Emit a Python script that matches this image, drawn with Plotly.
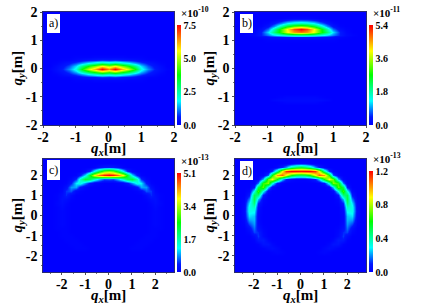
import plotly.graph_objects as go

W, H = 436, 306
FONT = "Liberation Serif"
SCALE = [[0, "#0000ff"], [0.08, "#0018ff"], [0.24, "#00ffff"], [0.5, "#00ff00"], [0.74, "#ffff00"], [1, "#ff0000"]]

# ---- panel a: percent of peak, columns are q_x >= 0, mirrored
a_x = [0, .2, .4, .6, .8, 1.0, 1.2, 1.4, 1.6, 1.8, 2.0, 2.2]
a_y = [-2.2, -.5, -.4, -.3, -.2, -.1, 0, .1, .2, .3, .4, .5, 2.2]
a_rows = [
    [0]*12,
    [0]*12,
    [2, 2, 2, 1, 1, 1, 0, 0, 0, 0, 0, 0],
    [9, 10, 8, 7, 5, 3, 1, 1, 0, 0, 0, 0],
    [31, 36, 30, 25, 18, 12, 7, 4, 1, 0, 0, 0],
    [66, 75, 62, 52, 37, 22, 12, 7, 3, 0, 0, 0],
    [85, 100, 82, 70, 50, 27, 16, 9, 4, 1, 0, 0],
    [66, 75, 62, 52, 37, 22, 12, 7, 3, 0, 0, 0],
    [31, 36, 30, 25, 18, 12, 7, 4, 1, 0, 0, 0],
    [9, 10, 8, 7, 5, 3, 1, 1, 0, 0, 0, 0],
    [2, 2, 2, 1, 1, 1, 0, 0, 0, 0, 0, 0],
    [0]*12,
    [0]*12,
]

# ---- panel b
b_x = [0, .2, .4, .6, .8, 1.0, 1.2, 1.4, 1.6, 1.8, 2.2]
b_y = [-2.2, -1.3, -1.2, -1.1, -1.0, -.9, .9, 1.0, 1.1, 1.2, 1.3, 1.4, 1.5, 1.6, 1.7, 1.8, 1.9, 2.2]
b_rows = [
    [0]*11,
    [0]*11,
    [2, 2, 2, 1, 0, 0, 0, 0, 0, 0, 0],
    [3, 3, 3, 3, 2, 0, 0, 0, 0, 0, 0],
    [2, 2, 2, 1, 0, 0, 0, 0, 0, 0, 0],
    [0]*11,
    [0]*11,
    [1, 1, 1, 1, 1, 1, 0, 0, 0, 0, 0],
    [8, 8, 7, 6, 5, 4, 2, 1, 0, 0, 0],
    [36, 35, 32, 27, 22, 15, 8, 3, 1, 0, 0],
    [88, 84, 72, 55, 38, 22, 8, 2, 0, 0, 0],
    [100, 92, 74, 55, 32, 14, 4, 1, 0, 0, 0],
    [60, 56, 46, 32, 16, 6, 1, 0, 0, 0, 0],
    [30, 28, 23, 15, 7, 2, 0, 0, 0, 0, 0],
    [12, 11, 8, 4, 1, 0, 0, 0, 0, 0, 0],
    [2, 2, 1, 0, 0, 0, 0, 0, 0, 0, 0],
    [0]*11,
    [0]*11,
]

# ---- panels c, d share one grid
cd_x = [0, .2, .4, .6, .8, 1.0, 1.2, 1.4, 1.6, 1.8, 2.0, 2.2, 2.4, 2.6, 2.8]
cd_y = [-2.8, -2.6, -2.4, -2.2, -2.0, -1.8, -1.6, -1.4, -1.2, -1.0, -.8, -.6, -.4, -.2, 0,
        .2, .4, .6, .8, 1.0, 1.2, 1.4, 1.6, 1.8, 2.0, 2.2, 2.4, 2.6, 2.8]
c_rows = [
    [0]*15, [0]*15, [0]*15, [0]*15, [0]*15, [0]*15,
    [0, 0, 0, 0, 0, 1, 1, 1, 0, 0, 0, 0, 0, 0, 0],
    [0, 0, 0, 0, 0, 0, 1, 1, 1, 0, 0, 0, 0, 0, 0],
    [0, 0, 0, 0, 0, 0, 0, 1, 1, 1, 0, 0, 0, 0, 0],
    [0, 0, 0, 0, 0, 0, 0, 0, 1, 1, 1, 0, 0, 0, 0],
    [0, 0, 0, 0, 0, 0, 0, 0, 0, 1, 1, 0, 0, 0, 0],
    [0, 0, 0, 0, 0, 0, 0, 0, 0, 1, 1, 1, 0, 0, 0],
    [0, 0, 0, 0, 0, 0, 0, 0, 0, 1, 2, 1, 0, 0, 0],
    [0, 0, 0, 0, 0, 0, 0, 0, 0, 1, 2, 1, 0, 0, 0],
    [0, 0, 0, 0, 0, 0, 0, 0, 0, 1, 2, 1, 0, 0, 0],
    [0, 0, 0, 0, 0, 0, 0, 0, 0, 1, 2, 1, 0, 0, 0],
    [0, 0, 0, 0, 0, 0, 0, 0, 0, 1, 3, 1, 0, 0, 0],
    [0, 0, 0, 0, 0, 0, 0, 0, 0, 2, 4, 2, 0, 0, 0],
    [0, 0, 0, 0, 0, 0, 0, 0, 1, 4, 5, 1, 0, 0, 0],
    [0, 0, 0, 0, 0, 0, 0, 0, 3, 9, 4, 1, 0, 0, 0],
    [0, 0, 0, 0, 0, 0, 1, 3, 12, 10, 2, 0, 0, 0, 0],
    [0, 0, 0, 0, 0, 2, 6, 18, 17, 5, 1, 0, 0, 0, 0],
    [0, 0, 1, 2, 6, 16, 27, 23, 8, 1, 0, 0, 0, 0, 0],
    [13, 12, 20, 30, 41, 45, 30, 10, 2, 0, 0, 0, 0, 0, 0],
    [100, 97, 88, 72, 48, 22, 7, 1, 0, 0, 0, 0, 0, 0, 0],
    [62, 58, 43, 25, 10, 2, 0, 0, 0, 0, 0, 0, 0, 0, 0],
    [8, 7, 4, 1, 0, 0, 0, 0, 0, 0, 0, 0, 0, 0, 0],
    [0]*15, [0]*15,
]
d_rows = [
    [0]*15, [0]*15, [0]*15, [0]*15, [0]*15,
    [0, 0, 0, 0, 1, 2, 1, 0, 0, 0, 0, 0, 0, 0, 0],
    [0, 0, 0, 0, 0, 2, 4, 3, 1, 0, 0, 0, 0, 0, 0],
    [0, 0, 0, 0, 0, 0, 2, 6, 6, 1, 0, 0, 0, 0, 0],
    [0, 0, 0, 0, 0, 0, 0, 2, 8, 7, 1, 0, 0, 0, 0],
    [0, 0, 0, 0, 0, 0, 0, 0, 3, 10, 4, 0, 0, 0, 0],
    [0, 0, 0, 0, 0, 0, 0, 0, 2, 9, 11, 2, 0, 0, 0],
    [0, 0, 0, 0, 0, 0, 0, 0, 1, 5, 14, 5, 0, 0, 0],
    [0, 0, 0, 0, 0, 0, 0, 0, 0, 3, 17, 11, 1, 0, 0],
    [0, 0, 0, 0, 0, 0, 0, 0, 0, 2, 19, 17, 2, 0, 0],
    [0, 0, 0, 0, 0, 0, 0, 0, 0, 2, 20, 22, 3, 0, 0],
    [0, 0, 0, 0, 0, 0, 0, 0, 0, 3, 25, 26, 4, 0, 0],
    [0, 0, 0, 0, 0, 0, 0, 0, 0, 4, 30, 26, 3, 0, 0],
    [0, 0, 0, 0, 0, 0, 0, 0, 1, 9, 38, 22, 2, 0, 0],
    [0, 0, 0, 0, 0, 0, 0, 0, 2, 19, 43, 15, 1, 0, 0],
    [0, 0, 0, 0, 0, 0, 0, 0, 7, 37, 42, 7, 0, 0, 0],
    [0, 0, 0, 0, 0, 0, 0, 3, 25, 55, 26, 2, 0, 0, 0],
    [0, 0, 0, 0, 0, 0, 3, 21, 58, 42, 7, 0, 0, 0, 0],
    [0, 0, 0, 0, 1, 6, 28, 62, 54, 15, 1, 0, 0, 0, 0],
    [1, 1, 3, 8, 22, 50, 74, 58, 19, 2, 0, 0, 0, 0, 0],
    [42, 44, 52, 72, 90, 84, 50, 13, 2, 0, 0, 0, 0, 0, 0],
    [99, 100, 100, 95, 72, 35, 10, 1, 0, 0, 0, 0, 0, 0, 0],
    [44, 40, 32, 17, 8, 2, 0, 0, 0, 0, 0, 0, 0, 0, 0],
    [3, 3, 1, 0, 0, 0, 0, 0, 0, 0, 0, 0, 0, 0, 0],
    [0]*15,
]

# ---- scales and labels
a_ticks = [0, 2.5, 5.0, 7.5]
b_ticks = [0, 1.8, 3.6, 5.4]
c_ticks = [0, 1.7, 3.4, 5.1]
d_ticks = [0, 0.4, 0.8, 1.2]
exponents = ["-10", "-11", "-13", "-13"]
letters = ["a)", "b)", "c)", "d)"]
q_ticks_small = [-2, -1, 0, 1, 2]

panels = [
    dict(x=a_x, y=a_y, rows=a_rows, ticks=a_ticks, box=(43, 174, 12, 125), bar=(177, 25, 125), rng=2.0, lab=(47, 60, 14, 33)),
    dict(x=b_x, y=b_y, rows=b_rows, ticks=b_ticks, box=(235, 366, 12, 125), bar=(369, 25, 125), rng=2.0, lab=(240, 253, 14, 33)),
    dict(x=cd_x, y=cd_y, rows=c_rows, ticks=c_ticks, box=(43, 174, 159, 272), bar=(177, 173, 272), rng=2.8, lab=(47, 60, 160, 180)),
    dict(x=cd_x, y=cd_y, rows=d_rows, ticks=d_ticks, box=(235, 366, 159, 272), bar=(369, 171, 272), rng=2.8, lab=(240, 253, 161, 180)),
]


def mirror(xs, rows):
    full_x = [-v for v in reversed(xs[1:])] + list(xs)
    full_z = [list(reversed(r[1:])) + list(r) for r in rows]
    return full_x, full_z


fig = go.Figure()
annotations, shapes = [], []
for i, p in enumerate(panels, start=1):
    l, r, t, b = p["box"]
    fx, fz = mirror(p["x"], p["rows"])
    top = p["ticks"][-1]
    z = [[v / 100 * top for v in row] for row in fz]
    bx, bt, bb = p["bar"]
    fig.add_trace(go.Heatmap(
        x=fx, y=p["y"], z=z, zmin=0, zmax=top, colorscale=SCALE, zsmooth="best",
        xaxis=f"x{i}", yaxis=f"y{i}", hoverinfo="skip",
        colorbar=dict(
            x=bx / W, xanchor="left", xpad=0, y=1 - bt / H, yanchor="top", ypad=0,
            len=(bb - bt) / H, lenmode="fraction", thickness=4, outlinewidth=0,
            tickvals=p["ticks"], ticktext=[f"{v:.1f}" for v in p["ticks"]], ticks="",
            tickfont=dict(family=FONT, size=10, color="black", weight=700),
        ),
    ))
    axis = dict(
        range=[-p["rng"], p["rng"]], tickvals=q_ticks_small, ticktext=[str(v) for v in q_ticks_small],
        ticks="outside", ticklen=2, tickwidth=0.6, tickcolor="#555",
        tickfont=dict(family=FONT, size=14, color="black", weight=700),
        showgrid=False, zeroline=False, showline=True, mirror=True, linecolor="#2a2a70", linewidth=0.6,
        minor=dict(dtick=0.5, ticks="outside", ticklen=1.5, tickwidth=0.5, tickcolor="#777", showgrid=False),
        automargin=False,
    )
    suffix = "" if i == 1 else str(i)
    fig.update_layout(**{
        f"xaxis{suffix}": dict(axis, domain=[l / W, r / W], anchor=f"y{i}", ticklabelstandoff=-3),
        f"yaxis{suffix}": dict(axis, domain=[1 - b / H, 1 - t / H], anchor=f"x{i}"),
    })
    # axis titles
    annotations.append(dict(
        x=(l + r) / 2 / W, y=1 - (b + 24) / H, xref="paper", yref="paper", xanchor="center", yanchor="middle",
        text="<b><i>q</i><sub><i>x</i></sub>[m]</b>", showarrow=False, font=dict(family=FONT, size=15, color="black"),
    ))
    annotations.append(dict(
        x=(l - 26) / W, y=1 - (t + b) / 2 / H, xref="paper", yref="paper", xanchor="center", yanchor="middle",
        text="<b><i>q</i><sub><i>y</i></sub>[m]</b>", textangle=-90, showarrow=False,
        font=dict(family=FONT, size=15, color="black"),
    ))
    # multiplier above the colour bar
    annotations.append(dict(
        x=(bx + 2) / W, y=1 - (bt - 13) / H, xref="paper", yref="paper", xanchor="left", yanchor="middle",
        text=f"<b>×10<sup>{exponents[i-1]}</sup></b>", showarrow=False, font=dict(family=FONT, size=11, color="black"),
    ))
    # panel letter
    ll, lr, lt, lb = p["lab"]
    shapes.append(dict(type="rect", xref="paper", yref="paper", x0=ll / W, x1=lr / W, y0=1 - lb / H, y1=1 - lt / H,
                       fillcolor="white", line_width=0, layer="above"))
    annotations.append(dict(
        x=(ll + lr) / 2 / W, y=1 - (lt + lb) / 2 / H, xref="paper", yref="paper", xanchor="center", yanchor="middle",
        text=letters[i - 1], showarrow=False, font=dict(family=FONT, size=12, color="black"),
    ))

fig.update_layout(
    width=W, height=H, margin=dict(l=0, r=0, t=0, b=0), paper_bgcolor="white", plot_bgcolor="#0000ff",
    showlegend=False, annotations=annotations, shapes=shapes, font=dict(family=FONT),
)
fig.write_html("out.html", config=dict(displayModeBar=False),
               post_script="document.body.style.margin='0';document.body.style.overflow='hidden';")
